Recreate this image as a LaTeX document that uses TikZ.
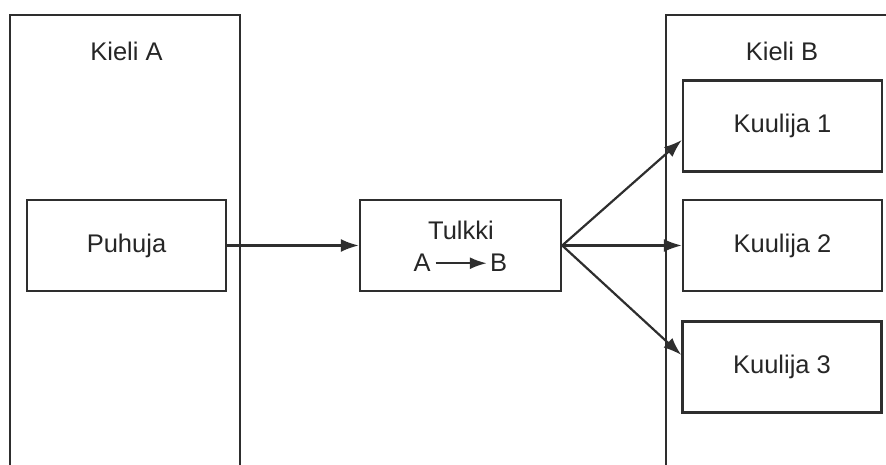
\documentclass[tikz,border=0pt]{standalone}
\usepackage{fontspec}
\setmainfont{Liberation Sans}
\usetikzlibrary{arrows.meta}
\definecolor{ink}{HTML}{2E2E2E}
\definecolor{textink}{HTML}{262626}
\begin{document}
\begin{tikzpicture}[x=1pt,y=1pt,
  every node/.style={text=textink,font=\fontsize{25.5}{30}\selectfont},
  frame/.style={draw=ink,line width=2.4pt},
  unitbox/.style={frame,minimum width=199pt,minimum height=91pt,inner sep=0pt},
  flow/.style={draw=ink,line width=2.2pt,-{Latex[length=18pt,width=13pt]}},
  small/.style={draw=ink,line width=2.2pt,-{Latex[length=17pt,width=12pt]}}]
  \useasboundingbox (0,0) rectangle (886,465);

  % language areas, open at the bottom (and at the right for B)
  \draw[frame] (10,0) -- (10,450) -- (240,450) -- (240,0);
  \draw[frame] (666,0) -- (666,450) -- (886,450);
  \node[anchor=base] (kieliA) at (126.5,404.5) {Kieli A};
  \node[anchor=base] (kieliB) at (782,404.5) {Kieli B};

  % speaker, interpreter and listeners
  \node[unitbox] (puhuja) at (126.5,219.5) {Puhuja};
  \node[unitbox,minimum width=201pt] (tulkki) at (460.5,219.5) {};
  \node[anchor=base] (tlabel) at (461,225) {Tulkki};
  \node[anchor=base,inner xsep=5pt,inner ysep=1pt] (ta) at (422,193) {A};
  \node[anchor=base,inner xsep=3pt,inner ysep=1pt] (tb) at (498.5,193) {B};
  \draw[small] (ta) -- (tb);

  \node[unitbox] (k1) at (782.5,339) {Kuulija 1};
  \node[unitbox] (k2) at (782.5,219.5) {Kuulija 2};
  \node[unitbox] (k3) at (782,98) {Kuulija 3};

  % message flow
  \draw[flow] (puhuja) -- (tulkki);
  \draw[flow] (tulkki.east) -- ([yshift=-14pt]k1.west);
  \draw[flow] (tulkki.east) -- (k2.west);
  \draw[flow] (tulkki.east) -- ([yshift=12pt]k3.west);
\end{tikzpicture}
\end{document}
